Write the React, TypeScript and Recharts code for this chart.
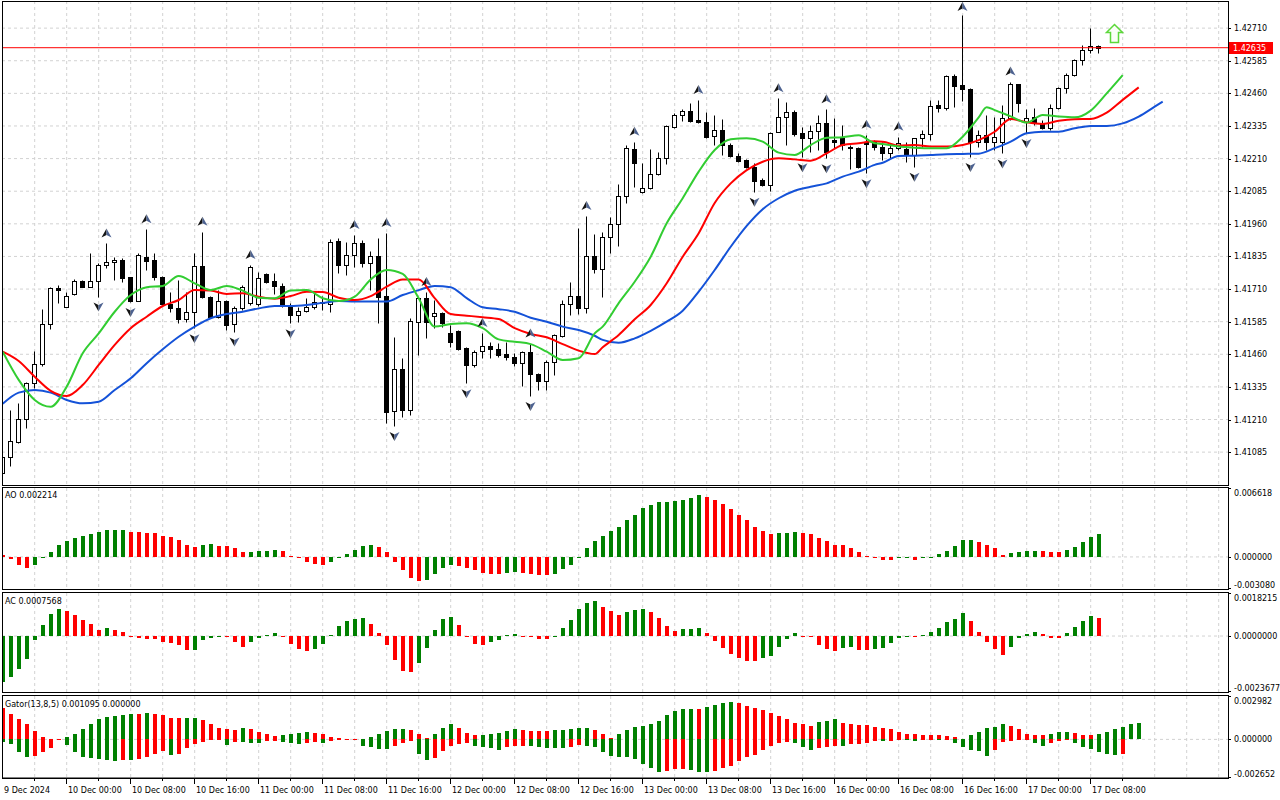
import React from "react";
import {
  ComposedChart,
  Bar,
  Line,
  Scatter,
  XAxis,
  YAxis,
  CartesianGrid,
  ReferenceLine,
  ReferenceDot,
} from "recharts";

// H1 bars, index 0 = 9 Dec 16:00 ... index 137 = 17 Dec 09:00
const opens = [
  1.41004, 1.41068, 1.41125, 1.41211, 1.41351, 1.41422, 1.41575, 1.41713, 1.41642, 1.4169,
  1.41741, 1.41719, 1.41741, 1.41801, 1.41814, 1.41821, 1.41755, 1.41665, 1.41834, 1.41821,
  1.41755, 1.41653, 1.41636, 1.41595, 1.41621, 1.41798, 1.41681, 1.41604, 1.41663, 1.41576,
  1.41636, 1.41656, 1.41652, 1.41767, 1.41741, 1.41722, 1.41648, 1.41611, 1.41625, 1.4164,
  1.41656, 1.41652, 1.41894, 1.41802, 1.41841, 1.41888, 1.41811, 1.41837, 1.41683, 1.41244,
  1.41402, 1.41247, 1.41585, 1.41675, 1.41607, 1.41619, 1.4154, 1.41549, 1.41485, 1.41419,
  1.41474, 1.41492, 1.41479, 1.41461, 1.41449, 1.41426, 1.41468, 1.41385, 1.41359, 1.41432,
  1.41531, 1.41652, 1.41685, 1.41639, 1.41837, 1.41786, 1.41911, 1.41958, 1.42067, 1.42247,
  1.42083, 1.42096, 1.4215, 1.42211, 1.42332, 1.42377, 1.42394, 1.42358, 1.42349, 1.42297,
  1.4232, 1.42262, 1.4222, 1.42205, 1.42179, 1.42128, 1.42109, 1.42313, 1.42371, 1.4239,
  1.42307, 1.42288, 1.42316, 1.42348, 1.42281, 1.42288, 1.42256, 1.4225, 1.42275, 1.42275,
  1.42256, 1.4223, 1.4225, 1.42246, 1.42224, 1.42288, 1.42303, 1.42416, 1.42403, 1.42527,
  1.42492, 1.42476, 1.42275, 1.42301, 1.42275, 1.42275, 1.42365, 1.42495, 1.42352, 1.42371,
  1.42345, 1.42326, 1.42403, 1.4248, 1.4253, 1.42588, 1.42626, 1.42643,
];
const highs = [
  1.41082, 1.41247, 1.41272, 1.41355, 1.41474, 1.41634, 1.41719, 1.41726, 1.41698, 1.41747,
  1.41745, 1.41849, 1.41809, 1.41885, 1.41832, 1.41828, 1.41757, 1.41847, 1.41939, 1.41847,
  1.4176, 1.417, 1.41745, 1.41698, 1.41847, 1.4193, 1.41683, 1.41706, 1.41668, 1.41645,
  1.41726, 1.41802, 1.41774, 1.4177, 1.41773, 1.41732, 1.41656, 1.4164, 1.41675, 1.41694,
  1.41683, 1.41901, 1.41907, 1.41892, 1.41917, 1.41898, 1.41856, 1.41906, 1.41925, 1.41527,
  1.41445, 1.416, 1.41677, 1.41699, 1.41668, 1.41623, 1.41572, 1.41553, 1.41489, 1.41476,
  1.41542, 1.41508, 1.41502, 1.41508, 1.41464, 1.41474, 1.41501, 1.41387, 1.41438, 1.41538,
  1.41668, 1.41738, 1.41943, 1.4199, 1.4192, 1.41928, 1.41987, 1.42113, 1.42262, 1.42275,
  1.42192, 1.42247, 1.42237, 1.42339, 1.42384, 1.42399, 1.42422, 1.42435, 1.42388, 1.42377,
  1.42361, 1.42269, 1.4223, 1.42209, 1.42192, 1.42136, 1.42313, 1.42441, 1.42426, 1.42396,
  1.42332, 1.42339, 1.42377, 1.42399, 1.42365, 1.42339, 1.42262, 1.42256, 1.42301, 1.42281,
  1.42275, 1.42269, 1.42294, 1.42275, 1.42289, 1.4232, 1.42435, 1.42435, 1.4253, 1.42534,
  1.42762, 1.4248, 1.4232, 1.42377, 1.4237, 1.42416, 1.42505, 1.42496, 1.42399, 1.42403,
  1.42358, 1.42419, 1.42483, 1.42539, 1.42591, 1.42646, 1.4271, 1.42646,
];
const lows = [
  1.40967, 1.41033, 1.41121, 1.41179, 1.41331, 1.41415, 1.41556, 1.41656, 1.41641, 1.41687,
  1.41718, 1.41718, 1.41681, 1.4179, 1.41745, 1.41738, 1.4166, 1.41664, 1.41783, 1.41745,
  1.41645, 1.41622, 1.41579, 1.41584, 1.4156, 1.41676, 1.41599, 1.41599, 1.41553, 1.41547,
  1.4163, 1.41649, 1.41645, 1.41733, 1.41691, 1.41642, 1.41579, 1.41585, 1.41623, 1.41634,
  1.4163, 1.41623, 1.4177, 1.41764, 1.41796, 1.41796, 1.41706, 1.41579, 1.41196, 1.41185,
  1.41221, 1.41227, 1.41457, 1.41521, 1.4156, 1.41566, 1.41489, 1.41476, 1.41349, 1.41412,
  1.41445, 1.41445, 1.41451, 1.41438, 1.41415, 1.41339, 1.413, 1.41323, 1.41323, 1.41381,
  1.41527, 1.41611, 1.41613, 1.41617, 1.4177, 1.41681, 1.41849, 1.41876, 1.42039, 1.42102,
  1.42079, 1.42094, 1.42147, 1.42189, 1.42326, 1.42354, 1.42352, 1.42345, 1.42288, 1.42262,
  1.42224, 1.42217, 1.42198, 1.42173, 1.42083, 1.42105, 1.42087, 1.42311, 1.42262, 1.42298,
  1.42215, 1.42237, 1.42243, 1.42211, 1.4225, 1.42243, 1.42169, 1.42173, 1.42154, 1.42243,
  1.42205, 1.42211, 1.42243, 1.42198, 1.42179, 1.42256, 1.42281, 1.4239, 1.42396, 1.42409,
  1.42432, 1.42216, 1.42256, 1.42243, 1.42243, 1.4223, 1.42358, 1.4239, 1.42308, 1.42339,
  1.42322, 1.4232, 1.42399, 1.4246, 1.42527, 1.42569, 1.42614, 1.42616,
];
const closes = [
  1.41068, 1.41129, 1.41211, 1.41351, 1.41422, 1.41575, 1.41713, 1.41706, 1.41685, 1.41741,
  1.41719, 1.41741, 1.41801, 1.41813, 1.41821, 1.41754, 1.41665, 1.41839, 1.41819, 1.41757,
  1.41653, 1.41636, 1.41595, 1.41621, 1.41798, 1.41681, 1.41604, 1.41663, 1.41572, 1.41636,
  1.41719, 1.41796, 1.41754, 1.41738, 1.41722, 1.41652, 1.41611, 1.41625, 1.4164, 1.41662,
  1.41662, 1.41892, 1.41802, 1.41841, 1.41888, 1.41811, 1.41837, 1.41681, 1.4124, 1.41402,
  1.41247, 1.41588, 1.41675, 1.41585, 1.41619, 1.41579, 1.41508, 1.41479, 1.41419, 1.4147,
  1.41492, 1.41479, 1.41457, 1.41449, 1.41426, 1.41468, 1.41383, 1.41359, 1.41432, 1.41534,
  1.41652, 1.41685, 1.41639, 1.41837, 1.41786, 1.41908, 1.41958, 1.42067, 1.4225, 1.42194,
  1.42096, 1.4215, 1.42211, 1.42335, 1.42377, 1.42394, 1.42355, 1.42349, 1.42294, 1.4232,
  1.42262, 1.4222, 1.42202, 1.42179, 1.42125, 1.42109, 1.42309, 1.42371, 1.4239, 1.42303,
  1.42288, 1.42317, 1.42348, 1.42237, 1.42275, 1.42262, 1.4225, 1.42179, 1.42266, 1.42256,
  1.4223, 1.4225, 1.42269, 1.42224, 1.42288, 1.42303, 1.42412, 1.42403, 1.42527, 1.42488,
  1.42476, 1.42275, 1.42301, 1.42275, 1.42293, 1.42365, 1.42495, 1.42422, 1.42365, 1.42345,
  1.42326, 1.42403, 1.4248, 1.4253, 1.42588, 1.42626, 1.42643, 1.42635,
];

// Alligator (13,8,5) as [bar, price], lines already shifted
const jawPoints: [number, number][] = [
  [0, 1.4127], [2, 1.41313], [4, 1.41323], [6, 1.41313], [8, 1.41285], [10, 1.41272], [12, 1.41278],
  [14, 1.41323], [16, 1.41368], [18, 1.41426], [20, 1.41479], [22, 1.41527], [24, 1.41566],
  [26, 1.41598], [28, 1.41614], [30, 1.41623], [32, 1.41636], [34, 1.41645], [36, 1.41645],
  [38, 1.41649], [40, 1.41657], [42, 1.41664], [44, 1.41662], [46, 1.41662], [48, 1.41662],
  [50, 1.41687], [52, 1.41706], [54, 1.41722], [56, 1.41717], [58, 1.41675], [60, 1.4164],
  [62, 1.41633], [64, 1.41623], [66, 1.416], [68, 1.41585], [70, 1.41566], [72, 1.41553],
  [74, 1.41531], [75, 1.41515], [77, 1.41504], [79, 1.41521], [81, 1.4155], [83, 1.41585],
  [85, 1.41627], [87, 1.417], [89, 1.41783], [91, 1.41872], [93, 1.41952], [95, 1.42016],
  [97, 1.42058], [99, 1.42087], [101, 1.42102], [103, 1.42115], [105, 1.42141], [107, 1.4216],
  [109, 1.42186], [110, 1.42194], [112, 1.4222], [114, 1.42221], [116, 1.42224], [118, 1.42227],
  [120, 1.42228], [122, 1.42229], [124, 1.4225], [126, 1.42275], [128, 1.42307], [130, 1.42313],
  [132, 1.42313], [134, 1.42326], [136, 1.42335], [138, 1.42335], [140, 1.42345], [142, 1.42371],
  [144, 1.42409], [145, 1.42428],
];
const teethPoints: [number, number][] = [
  [0, 1.4147], [2, 1.41434], [4, 1.41374], [6, 1.4132], [8, 1.413], [10, 1.41342], [12, 1.41419],
  [14, 1.41496], [16, 1.4156], [18, 1.41604], [20, 1.41645], [22, 1.41668], [24, 1.41706],
  [26, 1.41704], [28, 1.41691], [30, 1.41694], [32, 1.41681], [34, 1.41673], [36, 1.41683],
  [38, 1.417], [40, 1.41699], [42, 1.41677], [44, 1.41668], [46, 1.41683], [48, 1.41719],
  [50, 1.41747], [52, 1.41747], [54, 1.41675], [56, 1.41614], [58, 1.41608], [60, 1.41602],
  [62, 1.41595], [64, 1.4156], [66, 1.41538], [68, 1.41525], [70, 1.41499], [72, 1.41474],
  [74, 1.41461], [75, 1.41487], [77, 1.41534], [79, 1.41594], [81, 1.41649], [83, 1.41732],
  [85, 1.41834], [87, 1.41924], [89, 1.4204], [91, 1.42115], [93, 1.42166], [95, 1.42198],
  [97, 1.42211], [99, 1.42207], [101, 1.42202], [103, 1.4223], [105, 1.42262], [107, 1.42269],
  [109, 1.42276], [110, 1.42275], [112, 1.4226], [114, 1.42262], [116, 1.42256], [118, 1.42256],
  [120, 1.42262], [122, 1.42281], [124, 1.42313], [126, 1.42362], [128, 1.42349], [130, 1.42343],
  [132, 1.42355], [134, 1.42361], [136, 1.42362], [138, 1.42386], [140, 1.42435], [142, 1.42483],
];
const lipsPoints: [number, number][] = [
  [0, 1.4147], [2, 1.41362], [4, 1.41285], [6, 1.41259], [8, 1.41336], [10, 1.41464], [12, 1.4154],
  [14, 1.41623], [16, 1.41687], [18, 1.41717], [20, 1.41722], [22, 1.4176], [24, 1.41732],
  [26, 1.41706], [28, 1.41722], [30, 1.41704], [32, 1.41677], [34, 1.41675], [36, 1.41704],
  [38, 1.41706], [40, 1.41675], [42, 1.41664], [44, 1.41681], [46, 1.41747], [48, 1.41783],
  [50, 1.41768], [52, 1.41675], [54, 1.41566], [56, 1.41576], [58, 1.41579], [60, 1.4156],
  [62, 1.41517], [64, 1.41508], [66, 1.41499], [68, 1.4147], [70, 1.41438], [72, 1.41445],
  [74, 1.4154], [75, 1.41566], [77, 1.41656], [79, 1.41738], [81, 1.41834], [83, 1.41962],
  [85, 1.42058], [87, 1.4216], [89, 1.42243], [91, 1.42284], [93, 1.42288], [95, 1.42275],
  [97, 1.42233], [99, 1.42224], [101, 1.42262], [103, 1.4229], [105, 1.42292], [107, 1.42299],
  [109, 1.42269], [110, 1.42266], [112, 1.42256], [114, 1.42252], [116, 1.4225], [118, 1.4225],
  [120, 1.42294], [122, 1.42368], [123, 1.42407], [124, 1.42396], [126, 1.42372], [128, 1.42348],
  [130, 1.42377], [132, 1.42371], [134, 1.42368], [136, 1.42394], [138, 1.4246], [140, 1.4253],
];

const fractalUpBars = [13, 18, 25, 31, 44, 48, 53, 60, 66, 73, 79, 87, 97, 103, 108, 112, 120, 126];
const fractalDownBars = [12, 16, 24, 29, 36, 49, 58, 66, 94, 100, 103, 108, 114, 121, 125, 128];

// the hollow green arrow object
const signalBar = 139;
const signalPrice = 1.42693;

const aoValues = [
  0.0002, -0.0002, -0.0008, -0.0011, -0.0008, -0.00015, 0.0005, 0.0011, 0.00155, 0.0018,
  0.002, 0.0022, 0.00235, 0.00255, 0.0026, 0.00262, 0.0024, 0.00238, 0.0023, 0.00228,
  0.002, 0.0019, 0.00165, 0.00113, 0.00098, 0.00117, 0.0012, 0.00107, 0.00105, 0.00082,
  0.00043, 0.0005, 0.00059, 0.0006, 0.00065, 0.00059, 0.0001, -0.00015, -0.00045, -0.00064,
  -0.00077, -0.00047, 0.00003, 0.0003, 0.00069, 0.00107, 0.0011, 0.00098, 0.0005, -0.00047,
  -0.00125, -0.002, -0.0023, -0.0022, -0.0016, -0.00106, -0.0008, -0.00086, -0.0011, -0.00128,
  -0.00157, -0.0016, -0.00162, -0.00157, -0.00144, -0.00157, -0.00166, -0.0017, -0.00172, -0.0016,
  -0.0012, -0.00077, 0.00003, 0.0009, 0.00155, 0.002, 0.0025, 0.0029, 0.0035, 0.004,
  0.00465, 0.005, 0.0053, 0.00532, 0.00535, 0.0055, 0.0057, 0.0059, 0.0058, 0.0055,
  0.0051, 0.0046, 0.004, 0.0035, 0.0029, 0.0025, 0.0022, 0.00226, 0.00232, 0.00238,
  0.0023, 0.0022, 0.0018, 0.00155, 0.00113, 0.0011, 0.00082, 0.00043, 0.0001, 0.00001,
  -0.0003, -0.00031, -0.00015, -0.00014, -0.0003, -0.00015, 0.00001, 0.00024, 0.0006, 0.00107,
  0.00165, 0.00166, 0.00146, 0.00117, 0.00082, 0.0002, 0.00033, 0.00052, 0.00059, 0.0006,
  0.00058, 0.0005, 0.00043, 0.00069, 0.00098, 0.00146, 0.0019, 0.002214,
];
const acValues = [
  -0.00196, -0.00175, -0.0014, -0.00098, -0.00018, 0.00045, 0.00094, 0.00116, 0.00108, 0.00088,
  0.00067, 0.00052, 0.00025, 0.00034, 0.00025, 0.00017, 0, -0.0001, -0.00011, -0.00012,
  -0.00024, -0.00028, -0.00036, -0.0006, -0.00059, -0.00018, -0.00007, -0.00004, -0.00006, -0.00024,
  -0.00045, -0.00024, -0.00007, 0.00004, 0.00013, 0.00001, -0.00035, -0.00053, -0.00063, -0.00053,
  -0.00032, 0.00004, 0.00042, 0.00063, 0.00074, 0.00075, 0.00052, 0.00013, -0.00038, -0.001,
  -0.0015, -0.00154, -0.00112, -0.00049, 0.00025, 0.00074, 0.0008, 0.00046, -0.00001, -0.00032,
  -0.00038, -0.00025, -0.00018, 0.00004, 0.0001, -0.00001, -0.00002, -0.00011, -0.00014, -0.00001,
  0.00035, 0.00069, 0.00115, 0.0014, 0.00147, 0.00123, 0.00105, 0.0009, 0.001, 0.00109,
  0.00115, 0.001, 0.00077, 0.00042, 0.00022, 0.00028, 0.00031, 0.00035, 0.00014, -0.00021,
  -0.00052, -0.00074, -0.00095, -0.00104, -0.00105, -0.00095, -0.00084, -0.00046, -0.00011, 0.00013,
  0.00001, -0.00003, -0.00038, -0.00055, -0.00062, -0.00049, -0.00048, -0.00057, -0.00058, -0.00053,
  -0.00049, -0.00028, -0.00007, -0.00003, -0.00004, 0.00004, 0.00017, 0.00035, 0.00059, 0.00074,
  0.00097, 0.00063, 0.00017, -0.00024, -0.00053, -0.0008, -0.00045, -0.00007, 0.0001, 0.00017,
  0.00008, -0.00007, -0.00008, 0.00013, 0.00038, 0.00063, 0.00084, 0.0007568,
];
const gatorUpper = [
  0.00213, 0.00173, 0.00139, 0.00104, 0.00058, 0.00018, 0.00005, 0.00002, 0.00016, 0.00039,
  0.00069, 0.00109, 0.00139, 0.00155, 0.00162, 0.00166, 0.00173, 0.00172, 0.0018, 0.00173,
  0.00171, 0.0015, 0.00146, 0.00147, 0.00148, 0.00136, 0.00104, 0.00081, 0.00069, 0.00065,
  0.00076, 0.0007, 0.00051, 0.00035, 0.00025, 0.0003, 0.00035, 0.00046, 0.00048, 0.00046,
  0.00039, 0.00018, 0.00012, 0.00005, 0.00002, 0.00005, 0.00018, 0.00035, 0.00058, 0.00069,
  0.00072, 0.00065, 0.00039, 0.00012, 0.00035, 0.00081, 0.00104, 0.00076, 0.00046, 0.00028,
  0.00029, 0.00039, 0.00042, 0.00058, 0.00069, 0.00068, 0.00058, 0.00057, 0.00056, 0.00062,
  0.00065, 0.00074, 0.00076, 0.00077, 0.00062, 0.00035, 0.00012, 0.00035, 0.00062, 0.00085,
  0.00092, 0.00104, 0.00127, 0.00166, 0.00196, 0.00208, 0.0021, 0.00207, 0.00224, 0.00236,
  0.0025, 0.00259, 0.0025, 0.00231, 0.00219, 0.00203, 0.0018, 0.00162, 0.00139, 0.00116,
  0.00104, 0.00092, 0.0012, 0.00127, 0.00139, 0.00116, 0.00104, 0.00097, 0.00096, 0.00088,
  0.00081, 0.00069, 0.00051, 0.00035, 0.00034, 0.00033, 0.00028, 0.00027, 0.00026, 0.00018,
  0.00005, 0.00028, 0.00053, 0.00081, 0.00085, 0.00104, 0.00092, 0.00069, 0.00035, 0.00028,
  0.00027, 0.00035, 0.00051, 0.00053, 0.00042, 0.00028, 0.00027, 0.00035, 0.00053, 0.00069,
  0.00085, 0.00104, 0.001095,
];
const gatorLower = [
  -0.0002, -0.00035, -0.00088, -0.00122, -0.00116, -0.00088, -0.00058, -0.00007, -0.00039, -0.00088,
  -0.00122, -0.00127, -0.00132, -0.00139, -0.00146, -0.00139, -0.00143, -0.00134, -0.00122, -0.00097,
  -0.00081, -0.00104, -0.00103, -0.00058, -0.00035, -0.00018, -0.00005, -0.00003, -0.00039, -0.00018,
  -0.0002, -0.00022, -0.00028, -0.00012, -0.00011, -0.00018, -0.00025, -0.00029, -0.00022, -0.00018,
  -0.00028, -0.00012, -0.00005, -0.00003, -0.00002, -0.00046, -0.00053, -0.00065, -0.00066, -0.00046,
  -0.00028, -0.00012, -0.00097, -0.00143, -0.00127, -0.00081, -0.00042, -0.0003, -0.00025, -0.00042,
  -0.00051, -0.00062, -0.00074, -0.00051, -0.00046, -0.00045, -0.00046, -0.00051, -0.00058, -0.00059,
  -0.0006, -0.00051, -0.00039, -0.00046, -0.0005, -0.00088, -0.00111, -0.00122, -0.00123, -0.00134,
  -0.00166, -0.00196, -0.00226, -0.00219, -0.00201, -0.002, -0.00208, -0.00226, -0.00227, -0.00215,
  -0.00196, -0.0018, -0.0015, -0.0012, -0.00104, -0.00076, -0.00046, -0.00028, -0.00018, -0.00023,
  -0.00053, -0.00074, -0.00058, -0.00051, -0.00042, -0.00043, -0.00035, -0.0003, -0.00023, -0.00008,
  -0.00012, -0.00011, -0.00005, -0.00007, -0.00008, -0.00004, -0.00002, -0.00003, -0.00002, -0.00028,
  -0.00051, -0.00074, -0.00081, -0.00111, -0.00074, -0.00018, -0.00008, -0.00005, -0.00003, -0.00028,
  -0.00046, -0.00028, -0.00012, -0.00005, -0.00023, -0.00051, -0.00065, -0.00085, -0.00099, -0.00104,
  -0.00103,
];

const priceTicks = [
  1.41085, 1.4121, 1.41335, 1.4146, 1.41585, 1.4171, 1.41835, 1.4196, 1.42085, 1.4221, 1.42335,
  1.4246, 1.42585, 1.4271,
];
const aoTicks = [0.006618, 0, -0.00308];
const acTicks = [0.0018215, 0, -0.0023677];
const gatorTicks = [0.002982, 0, -0.002652];
const timeLabels = [
  "9 Dec 2024", "10 Dec 00:00", "10 Dec 08:00", "10 Dec 16:00", "11 Dec 00:00", "11 Dec 08:00",
  "11 Dec 16:00", "12 Dec 00:00", "12 Dec 08:00", "12 Dec 16:00", "13 Dec 00:00", "13 Dec 08:00",
  "13 Dec 16:00", "16 Dec 00:00", "16 Dec 08:00", "16 Dec 16:00", "17 Dec 00:00", "17 Dec 08:00",
];

// ---- layout
const W = 1280;
const AXIS_W = 52;
const X_DOMAIN: [number, number] = [-0.0875, 153.1625]; // 8px per bar
const PRICE_DOMAIN: [number, number] = [1.40959, 1.42814];
const FONT = "'DejaVu Sans', Verdana, sans-serif";
const FS = 8;
const GRID = "#d2d2d2";
const UP = "#008000";
const DOWN = "#ff0000";

const gridBars = Array.from({ length: 38 }, (_, k) => 4 + k * 4);
const timeTicks = Array.from({ length: 36 }, (_, k) => k * 4);

function trendColors(values: number[], first: string, magnitude = false) {
  return values.map((v, k) => {
    if (k === 0) return first;
    const a = magnitude ? Math.abs(v) : v;
    const b = magnitude ? Math.abs(values[k - 1]) : values[k - 1];
    return a > b ? UP : DOWN;
  });
}

const aoColors = trendColors(aoValues, DOWN);
const acColors = trendColors(acValues, UP);
const guColors = trendColors(gatorUpper, DOWN, true);
const glColors = trendColors(gatorLower, UP, true);

const jawAt = new Map(jawPoints);
const teethAt = new Map(teethPoints);
const lipsAt = new Map(lipsPoints);
const upSet = new Set(fractalUpBars);
const downSet = new Set(fractalDownBars);

const mainRows = Array.from({ length: 146 }, (_, i) => {
  const has = i < closes.length;
  return {
    i,
    range: has ? [lows[i], highs[i]] : undefined,
    o: opens[i],
    h: highs[i],
    l: lows[i],
    c: closes[i],
    jaw: jawAt.get(i) ?? null,
    teeth: teethAt.get(i) ?? null,
    lips: lipsAt.get(i) ?? null,
    fu: upSet.has(i) ? highs[i] : null,
    fd: downSet.has(i) ? lows[i] : null,
  };
});

const subRows = gatorUpper.map((_, i) => ({
  i,
  ao: aoValues[i],
  aoC: aoColors[i],
  ac: acValues[i],
  acC: acColors[i],
  gu: gatorUpper[i],
  guC: guColors[i],
  gl: gatorLower[i],
  glC: glColors[i],
}));

const lastClose = closes[closes.length - 1];

// ---- shapes
function Candle(props: any) {
  const { x, y, width, height, payload } = props;
  if (!payload || payload.h == null || y == null || !Number.isFinite(y)) return <g />;
  const { o, h, l, c } = payload;
  const k = h > l ? height / (h - l) : 0;
  const py = (v: number) => Math.round(y + (h - v) * k) + 0.5;
  const col = Math.floor(x + width / 2) + 0.5;
  const yt = py(Math.max(o, c));
  const yb = py(Math.min(o, c));
  return (
    <g>
      <line x1={col} x2={col} y1={py(h)} y2={py(l)} stroke="#000" />
      {yb - yt >= 1 ? (
        <rect x={col - 2} y={yt} width={4} height={yb - yt} fill={c >= o ? "#fff" : "#000"} stroke="#000" />
      ) : (
        <line x1={col - 2} x2={col + 3} y1={yt} y2={yt} stroke="#000" />
      )}
    </g>
  );
}

function histShape(colorKey: string, valueKey: string) {
  return (props: any) => {
    const { x, y, width, height, payload } = props;
    if (!payload || payload[valueKey] == null || !Number.isFinite(y)) return <g />;
    const left = Math.floor(x + width / 2) - 1;
    const y0 = Math.round(y);
    const y1 = Math.round(y + height);
    return (
      <rect
        x={left}
        y={Math.min(y0, y1)}
        width={4}
        height={Math.max(Math.abs(y1 - y0), 1)}
        fill={payload[colorKey]}
      />
    );
  };
}

// fractal glyph: dark left half, bluish right half like the terminal's arrow font
function Fractal({ x, y, dir }: { x: number; y: number; dir: 1 | -1 }) {
  const tip = y - 5 * dir;
  const wing = y + 4 * dir;
  const notch = y + 1.5 * dir;
  return (
    <g>
      <path d={`M${x},${tip} L${x},${notch} L${x - 5},${wing} Z`} fill="#141414" />
      <path d={`M${x},${tip} L${x + 5},${wing} L${x},${notch} Z`} fill="#4d6290" />
    </g>
  );
}

function FractalUp(props: any) {
  const { cx, cy, payload } = props;
  if (!payload || payload.fu == null || !Number.isFinite(cy)) return <g />;
  return <Fractal x={Math.floor(cx) + 0.5} y={Math.max(cy - 10, 7)} dir={1} />;
}

function FractalDown(props: any) {
  const { cx, cy, payload } = props;
  if (!payload || payload.fd == null || !Number.isFinite(cy)) return <g />;
  return <Fractal x={Math.floor(cx) + 0.5} y={cy + 10} dir={-1} />;
}

function SignalArrow(props: any) {
  const { cx, cy } = props;
  if (!Number.isFinite(cx) || !Number.isFinite(cy)) return <g />;
  const x = Math.floor(cx) + 0.5;
  const y = Math.round(cy) + 0.5;
  const d = `M${x},${y - 9} L${x + 8},${y - 1} L${x + 4},${y - 1} L${x + 4},${y + 9} L${x - 4},${y + 9} L${x - 4},${y - 1} L${x - 8},${y - 1} Z`;
  return <path d={d} fill="#fbfff8" stroke="#5cd83a" strokeWidth={1.5} />;
}

function PriceTag(props: any) {
  const vb = props.viewBox || {};
  const x = (vb.x ?? 2) + (vb.width ?? 1226);
  const y = Math.round(vb.y ?? 0);
  return (
    <g>
      <rect x={x + 1} y={y - 6} width={44} height={12} fill="#ff0000" />
      <text x={x + 5} y={y + 3} fontSize={FS} fontFamily={FONT} fill="#fff">
        {lastClose.toFixed(5)}
      </text>
    </g>
  );
}

function PriceTick(props: any) {
  const { x, y, payload } = props;
  const ly = Math.round(y) + 0.5;
  return (
    <g>
      <line x1={x} x2={x + 3} y1={ly} y2={ly} stroke="#000" />
      <text x={x + 6} y={y + 3} fontSize={FS} fontFamily={FONT} fill="#000">
        {payload.value.toFixed(5)}
      </text>
    </g>
  );
}

function PanelTick(props: any) {
  const { x, y, payload, digits, plotH } = props;
  const ty = Math.min(Math.max(y, 5), plotH - 4.5);
  const ly = Math.min(Math.round(y) + 0.5, plotH - 0.5);
  return (
    <g>
      <line x1={x} x2={x + 3} y1={ly} y2={ly} stroke="#000" />
      <text x={x + 6} y={ty + 3} fontSize={FS} fontFamily={FONT} fill="#000">
        {payload.value.toFixed(digits)}
      </text>
    </g>
  );
}

function TimeTick(props: any) {
  const { x, y, payload } = props;
  const v = payload.value as number;
  const major = v % 8 === 0;
  const col = Math.floor(x) + 0.5;
  const label = major ? timeLabels[v / 8] : undefined;
  return (
    <g>
      {v > 0 && <line x1={col} x2={col} y1={y} y2={y + (major ? 6 : 3)} stroke="#000" />}
      {label && (
        <text x={col + 1.5} y={y + 15} fontSize={FS} fontFamily={FONT} fill="#000">
          {label}
        </text>
      )}
    </g>
  );
}

const hiddenX = (
  <XAxis dataKey="i" type="number" domain={X_DOMAIN} allowDataOverflow hide ticks={gridBars} interval={0} />
);

function MainChart() {
  return (
    <ComposedChart width={W} height={485} data={mainRows} margin={{ top: 1, right: 0, bottom: 0, left: 2 }}>
      <CartesianGrid stroke={GRID} strokeDasharray="3 3" horizontalValues={priceTicks} verticalValues={gridBars} />
      {hiddenX}
      <YAxis
        orientation="right"
        width={AXIS_W}
        type="number"
        domain={PRICE_DOMAIN}
        allowDataOverflow
        ticks={priceTicks}
        interval={0}
        axisLine={false}
        tickLine={false}
        tickSize={0}
        tickMargin={0}
        tick={<PriceTick />}
      />
      <Bar dataKey="range" barSize={8} shape={<Candle />} isAnimationActive={false} />
      <Line dataKey="jaw" type="monotone" stroke="#1452d8" strokeWidth={2} dot={false} connectNulls isAnimationActive={false} />
      <Line dataKey="teeth" type="monotone" stroke="#ff0000" strokeWidth={2} dot={false} connectNulls isAnimationActive={false} />
      <Line dataKey="lips" type="monotone" stroke="#32cd32" strokeWidth={2} dot={false} connectNulls isAnimationActive={false} />
      <Scatter dataKey="fu" shape={<FractalUp />} isAnimationActive={false} />
      <Scatter dataKey="fd" shape={<FractalDown />} isAnimationActive={false} />
      <ReferenceLine y={lastClose} stroke="#ff0000" strokeWidth={1} label={<PriceTag />} />
      <ReferenceDot x={signalBar} y={signalPrice} r={9} shape={<SignalArrow />} />
    </ComposedChart>
  );
}

function AoChart() {
  return (
    <ComposedChart width={W} height={101} data={subRows} margin={{ top: 0, right: 0, bottom: 0, left: 2 }}>
      <CartesianGrid stroke={GRID} strokeDasharray="3 3" horizontalValues={[0]} verticalValues={gridBars} />
      {hiddenX}
      <YAxis orientation="right" width={AXIS_W} type="number" domain={[aoTicks[2], aoTicks[0]]} allowDataOverflow
        ticks={aoTicks} interval={0} axisLine={false} tickLine={false} tickSize={0} tickMargin={0}
        tick={<PanelTick digits={6} plotH={101} />} />
      <Bar dataKey="ao" barSize={8} shape={histShape("aoC", "ao")} isAnimationActive={false} />
    </ComposedChart>
  );
}

function AcChart() {
  return (
    <ComposedChart width={W} height={99} data={subRows} margin={{ top: 0, right: 0, bottom: 0, left: 2 }}>
      <CartesianGrid stroke={GRID} strokeDasharray="3 3" horizontalValues={[0]} verticalValues={gridBars} />
      {hiddenX}
      <YAxis orientation="right" width={AXIS_W} type="number" domain={[acTicks[2], acTicks[0]]} allowDataOverflow
        ticks={acTicks} interval={0} axisLine={false} tickLine={false} tickSize={0} tickMargin={0}
        tick={<PanelTick digits={7} plotH={99} />} />
      <Bar dataKey="ac" barSize={8} shape={histShape("acC", "ac")} isAnimationActive={false} />
    </ComposedChart>
  );
}

function GatorChart() {
  return (
    <ComposedChart width={W} height={104} data={subRows} stackOffset="sign" margin={{ top: 0, right: 0, bottom: 0, left: 2 }}>
      <CartesianGrid stroke={GRID} strokeDasharray="3 3" horizontalValues={[0]} verticalValues={gridBars} />
      <XAxis dataKey="i" type="number" domain={X_DOMAIN} allowDataOverflow ticks={timeTicks} interval={0}
        height={22} axisLine={{ stroke: "#000" }} tickLine={false} tickSize={0} tickMargin={0} tick={<TimeTick />} />
      <YAxis orientation="right" width={AXIS_W} type="number" domain={[gatorTicks[2], gatorTicks[0]]} allowDataOverflow
        ticks={gatorTicks} interval={0} axisLine={false} tickLine={false} tickSize={0} tickMargin={0}
        tick={<PanelTick digits={6} plotH={82} />} />
      <Bar dataKey="gu" stackId="g" barSize={8} shape={histShape("guC", "gu")} isAnimationActive={false} />
      <Bar dataKey="gl" stackId="g" barSize={8} shape={histShape("glC", "gl")} isAnimationActive={false} />
    </ComposedChart>
  );
}

const titleStyle: React.CSSProperties = {
  position: "absolute",
  left: 5,
  fontFamily: FONT,
  fontSize: FS,
  lineHeight: "10px",
  color: "#000",
  whiteSpace: "pre",
};

function Box({ top, height }: { top: number; height: number }) {
  return (
    <div
      style={{
        position: "absolute",
        left: 2,
        top,
        width: 1227,
        height,
        border: "1px solid #000",
        boxSizing: "border-box",
        pointerEvents: "none",
      }}
    />
  );
}

export default function App() {
  return (
    <div style={{ position: "absolute", left: 0, top: 0, width: W, height: 800, background: "#fff", overflow: "hidden" }}>
      <div style={{ position: "absolute", left: 0, top: 0 }}>
        <MainChart />
      </div>
      <div style={{ position: "absolute", left: 0, top: 488 }}>
        <AoChart />
      </div>
      <div style={{ position: "absolute", left: 0, top: 593 }}>
        <AcChart />
      </div>
      <div style={{ position: "absolute", left: 0, top: 696 }}>
        <GatorChart />
      </div>
      <Box top={1} height={485} />
      <Box top={487} height={103} />
      <Box top={592} height={101} />
      <Box top={695} height={84} />
      <div style={{ ...titleStyle, top: 491 }}>{`AO ${aoValues[aoValues.length - 1].toFixed(6)}`}</div>
      <div style={{ ...titleStyle, top: 597 }}>{`AC ${acValues[acValues.length - 1].toFixed(7)}`}</div>
      <div style={{ ...titleStyle, top: 700 }}>
        {`Gator(13,8,5) ${gatorUpper[gatorUpper.length - 1].toFixed(6)} ${(0).toFixed(6)}`}
      </div>
    </div>
  );
}
